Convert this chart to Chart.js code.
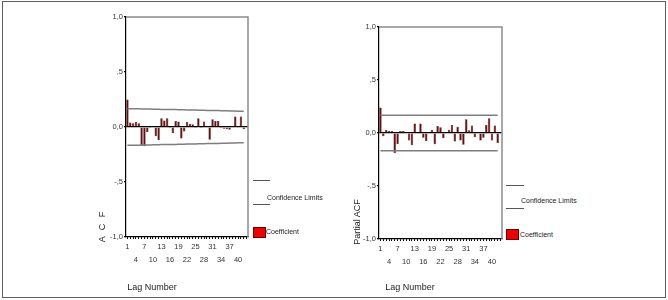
<!DOCTYPE html>
<html>
<head>
<meta charset="utf-8">
<script src="https://cdn.jsdelivr.net/npm/chart.js@4"></script>
<style>
  html, body { margin: 0; padding: 0; background: #fff; }
  body { width: 668px; height: 300px; position: relative; overflow: hidden;
         font-family: "Liberation Sans", Arial, sans-serif; color: #222; }
  .frame { position: absolute; left: 2px; top: 1px; width: 662px; height: 295px; border: 1.5px solid #5e5e5e; }
  canvas { position: absolute; }
  .axis-title { position: absolute; font-size: 9px; white-space: nowrap; transform: rotate(-90deg); transform-origin: center center; }
  .xtitle { position: absolute; font-size: 9px; white-space: nowrap; transform: translateX(-50%); }
  .lg-line { position: absolute; height: 0; border-top: 1px solid #555; }
  .lg-box { position: absolute; width: 11px; height: 9px; background: #f00000; border: 1px solid #600; }
  .lg-text { position: absolute; font-size: 7px; white-space: nowrap; line-height: 8px; }
</style>
</head>
<body>
<div class="frame"></div>

<canvas id="acf" width="172" height="264" style="left:80px;top:8px"></canvas>
<canvas id="pacf" width="173" height="256" style="left:333px;top:18px"></canvas>

<!-- axis titles -->
<div class="axis-title" style="left:86px;top:221px;letter-spacing:2px">A C F</div>
<div class="axis-title" style="left:334px;top:217px">Partial ACF</div>
<div class="xtitle" style="left:152px;top:282px">Lag Number</div>
<div class="xtitle" style="left:410px;top:282px">Lag Number</div>

<!-- legends -->
<div class="lg-line" style="left:253px;top:180px;width:17px"></div>
<div class="lg-text" style="left:267px;top:194px">Confidence Limits</div>
<div class="lg-line" style="left:253px;top:204px;width:17px"></div>
<div class="lg-box" style="left:253px;top:227px"></div>
<div class="lg-text" style="left:266px;top:228px">Coefficient</div>

<div class="lg-line" style="left:506px;top:185px;width:18px"></div>
<div class="lg-text" style="left:521px;top:197px">Confidence Limits</div>
<div class="lg-line" style="left:506px;top:208px;width:18px"></div>
<div class="lg-box" style="left:506px;top:229px"></div>
<div class="lg-text" style="left:520px;top:231px">Coefficient</div>

<script>
// lag numbers on the x axis
const lags = [1,2,3,4,5,6,7,8,9,10,11,12,13,14,15,16,17,18,19,20,21,22,23,24,25,26,27,28,29,30,31,32,33,34,35,36,37,38,39,40,41,42,43];

// autocorrelation coefficients
const acfValues = [
  0.25, 0.04, 0.035, 0.045, 0.035, -0.17, -0.175, -0.045, -0.01, 0.005,
  -0.085, -0.12, 0.08, 0.06, 0.08, -0.01, -0.055, 0.055, 0.05, -0.105,
  -0.04, 0.045, 0.03, 0.025, -0.01, 0.08, -0.01, 0.05, 0.01, -0.115,
  0.07, 0.055, 0.055, -0.01, -0.015, -0.02, -0.025, 0.01, 0.095, 0.005,
  0.095, -0.02, null
];
const acfUpper = [
  0.167, 0.166, 0.166, 0.165, 0.165, 0.164, 0.164, 0.163, 0.163, 0.162,
  0.162, 0.161, 0.160, 0.160, 0.159, 0.159, 0.158, 0.158, 0.157, 0.157,
  0.156, 0.155, 0.155, 0.154, 0.154, 0.153, 0.152, 0.152, 0.151, 0.151,
  0.150, 0.149, 0.149, 0.148, 0.147, 0.147, 0.146, 0.146, 0.145, 0.144,
  0.144, 0.143
];
const acfLower = [
  -0.167, -0.166, -0.166, -0.165, -0.165, -0.164, -0.164, -0.163, -0.163, -0.162,
  -0.162, -0.161, -0.160, -0.160, -0.159, -0.159, -0.158, -0.158, -0.157, -0.157,
  -0.156, -0.155, -0.155, -0.154, -0.154, -0.153, -0.152, -0.152, -0.151, -0.151,
  -0.150, -0.149, -0.149, -0.148, -0.147, -0.147, -0.146, -0.146, -0.145, -0.144,
  -0.144, -0.143
];

// partial autocorrelation coefficients
const pacfValues = [
  0.24, -0.03, 0.03, 0.02, 0.02, -0.19, -0.105, 0.02, 0.02, 0.0,
  -0.07, -0.115, 0.09, 0.005, 0.09, -0.045, -0.075, 0.005, 0.03, -0.105,
  0.065, 0.055, -0.05, 0.005, 0.03, 0.075, -0.08, 0.06, -0.07, -0.11,
  0.13, 0.025, 0.07, -0.04, 0.005, -0.07, -0.045, 0.075, 0.14, -0.07,
  0.07, -0.095, null
];
const pacfUpper = [
  0.168, 0.168, 0.168, 0.168, 0.168, 0.168, 0.168, 0.168, 0.168, 0.168,
  0.168, 0.168, 0.168, 0.168, 0.168, 0.168, 0.168, 0.168, 0.168, 0.168,
  0.168, 0.168, 0.168, 0.168, 0.168, 0.168, 0.168, 0.168, 0.168, 0.168,
  0.168, 0.168, 0.168, 0.168, 0.168, 0.168, 0.168, 0.168, 0.168, 0.168,
  0.168, 0.168
];
const pacfLower = [
  -0.168, -0.168, -0.168, -0.168, -0.168, -0.168, -0.168, -0.168, -0.168, -0.168,
  -0.168, -0.168, -0.168, -0.168, -0.168, -0.168, -0.168, -0.168, -0.168, -0.168,
  -0.168, -0.168, -0.168, -0.168, -0.168, -0.168, -0.168, -0.168, -0.168, -0.168,
  -0.168, -0.168, -0.168, -0.168, -0.168, -0.168, -0.168, -0.168, -0.168, -0.168,
  -0.168, -0.168
];

// y tick labels, SPSS style with decimal comma
const yTicks = { '1': '1,0', '0.5': ',5', '0': '0,0', '-0.5': '-,5', '-1': '-1,0' };

const FONT = '"Liberation Sans", Arial, sans-serif';

// gray frame on top and right of the plot area
const plotFrame = {
  id: 'plotFrame',
  afterDraw(chart) {
    const { ctx, chartArea: a } = chart;
    ctx.save();
    ctx.strokeStyle = '#8c8c8c';
    ctx.lineWidth = 1.5;
    ctx.beginPath();
    ctx.moveTo(a.left, a.top);
    ctx.lineTo(a.right, a.top);
    ctx.lineTo(a.right, a.bottom);
    ctx.stroke();
    ctx.restore();
  }
};

function makeChart(id, values, upper, lower, padTop) {
  return new Chart(document.getElementById(id), {
    data: {
      labels: lags,
      datasets: [
        { type: 'line', data: upper, borderColor: '#7e7e7e', borderWidth: 1.5, pointRadius: 0, fill: false, order: 1 },
        { type: 'line', data: lower, borderColor: '#7e7e7e', borderWidth: 1.5, pointRadius: 0, fill: false, order: 1 },
        { type: 'bar', data: values, backgroundColor: '#6a0e0e', borderColor: '#3a0505', borderWidth: 0.5,
          barPercentage: 0.85, categoryPercentage: 1, order: 2 },
      ],
    },
    options: {
      responsive: false,
      devicePixelRatio: 1,
      animation: false,
      layout: { padding: { left: 0, top: padTop, right: 4, bottom: 0 } },
      plugins: { legend: { display: false }, tooltip: { enabled: false } },
      scales: {
        x: {
          type: 'category',
          offset: true,
          border: { color: '#000', width: 1.2 },
          grid: { offset: false, drawOnChartArea: false, color: '#000', tickLength: 2 },
          afterFit: s => { s.height = 35; },
          ticks: {
            autoSkip: false, maxRotation: 0, minRotation: 0, padding: 1,
            color: '#333',
            font: { family: FONT, size: 7.5, lineHeight: 1.75 },
            callback: (v, i) => {
              const lag = lags[i];
              if (lag > 40 || (lag - 1) % 3 !== 0) return '';
              return ((lag - 1) / 3) % 2 === 0 ? [String(lag), ''] : ['', String(lag)];
            },
          },
        },
        y: {
          min: -1, max: 1,
          border: { color: '#000', width: 1.2 },
          grid: {
            color: c => (c.tick && c.tick.value === 0 ? '#000' : 'rgba(0,0,0,0)'),
            tickColor: '#000', tickLength: 2, lineWidth: 1.2,
          },
          afterFit: s => { s.width = 46; },
          ticks: {
            stepSize: 0.5, padding: 1, color: '#333',
            font: { family: FONT, size: 7.5 },
            callback: v => yTicks[String(v)] || '',
          },
        },
      },
    },
    plugins: [plotFrame],
  });
}

makeChart('acf', acfValues, acfUpper, acfLower, 9);
makeChart('pacf', pacfValues, pacfUpper, pacfLower, 9);
</script>
</body>
</html>
